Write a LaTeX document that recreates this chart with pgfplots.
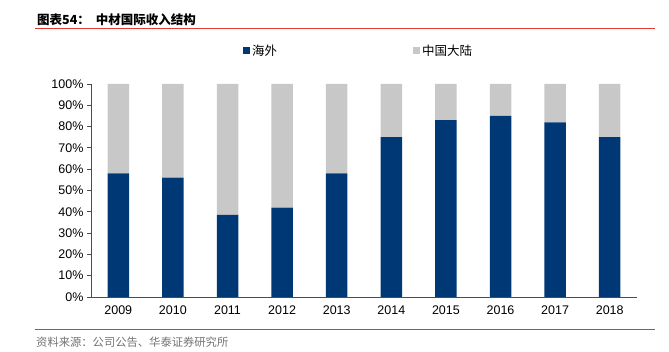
\documentclass[border=0pt]{standalone}
\usepackage{pgfplots}
\pgfplotsset{compat=1.18}
\usepackage{fontspec}
\setmainfont{Liberation Sans}
\newfontfamily\cjk{Noto Sans CJK SC}
\definecolor{navy}{RGB}{0,56,118}
\definecolor{lgray}{RGB}{200,200,200}
\definecolor{redline}{RGB}{220,60,50}
\begin{document}
\begin{tikzpicture}[x=1pt,y=1pt]
\path[use as bounding box] (0,0) rectangle (669,352);
% title
\node[anchor=base west, inner sep=0pt, font=\fontsize{12.5}{14}\selectfont] at (37,327) {\cjk\bfseries 图表54：\hspace{6pt}中材国际收入结构};
\draw[redline, line width=0.9pt] (35,323.5) -- (655,323.5);
% source
\draw[redline, line width=0.9pt] (35,23) -- (655,23);
\node[anchor=base west, inner sep=0pt, text=black!55, font=\fontsize{11.3}{13}\selectfont] at (36,5) {\cjk 资料来源：公司公告、华泰证券研究所};
\begin{axis}[
  at={(91pt,55pt)}, anchor=south west,
  scale only axis, width=546pt, height=213pt,
  ybar stacked, bar width=21.5pt,
  xmin=-0.5, xmax=9.5, ymin=0, ymax=100,
  xtick={0,...,9},
  xticklabels={2009,2010,2011,2012,2013,2014,2015,2016,2017,2018},
  extra x ticks={-0.5,0.5,...,9.5},
  extra x tick labels={},
  extra x tick style={major tick length=4pt, tick style={black!70}},
  ytick={0,10,...,100},
  yticklabel={\pgfmathprintnumber{\tick}\%},
  /pgf/number format/assume math mode=true,
  axis x line*=bottom, axis y line*=left,
  x axis line style={-, black!70, line width=0.8pt},
  y axis line style={-, black!70, line width=0.8pt},
  x tick style={draw=none},
  y tick style={black!70, line width=0.8pt},
  major tick length=4pt,
  tick align=outside,
  ticklabel style={font=\fontsize{12.5}{14}\selectfont},
  xticklabel style={yshift=-1pt},
  legend style={at={(0.49,1.155)}, anchor=center, draw=none, fill=none,
    legend columns=2, font=\fontsize{12.5}{14}\selectfont\cjk,
    /tikz/every even column/.append style={column sep=134pt}},
  legend image code/.code={\fill[#1] (0pt,-3.5pt) rectangle (7pt,3.5pt);},
]
\addplot[fill=navy, draw=none] coordinates {(0,58) (1,56) (2,38.5) (3,42) (4,58) (5,75) (6,83) (7,85) (8,82) (9,75)};
\addplot[fill=lgray, draw=none] coordinates {(0,42) (1,44) (2,61.5) (3,58) (4,42) (5,25) (6,17) (7,15) (8,18) (9,25)};
\legend{海外,中国大陆}
\end{axis}
\end{tikzpicture}
\end{document}
